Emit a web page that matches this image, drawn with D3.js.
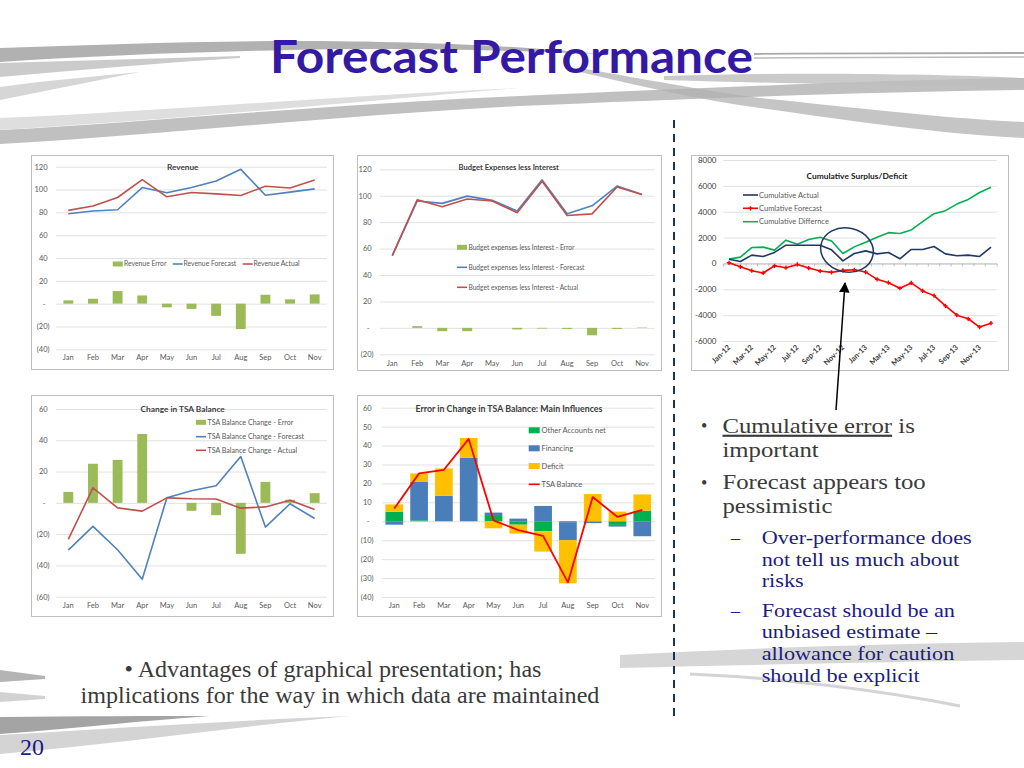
<!DOCTYPE html>
<html><head><meta charset="utf-8">
<script src="https://cdn.jsdelivr.net/npm/d3@7"></script>
<style>body{margin:0;background:#fff}svg{display:block}</style>
</head><body>
<svg id="s" width="1024" height="768"></svg>
<script>
// ---------------- DATA ----------------
const months = ["Jan","Feb","Mar","Apr","May","Jun","Jul","Aug","Sep","Oct","Nov"];

const revenueError    = [2.9, 4.3, 11, 7.2, -3.2, -4.6, -10.7, -22.3, 7.8, 3.8, 8.1];
const revenueForecast = [78.8, 81.2, 82.3, 101.7, 97.1, 101.7, 107.5, 117.7, 95, 97.7, 100.6];
const revenueActual   = [81.7, 85.5, 93, 108.7, 93.6, 97.4, 96.2, 94.8, 102.9, 101.4, 108.4];
const revenueTicks    = [120, 100, 80, 60, 40, 20, 0, -20, -40];

const budgetError    = [0, 1.3, -2.5, -2.5, 0, -1.2, -0.5, -0.8, -5.6, -0.8, 0.3];
const budgetForecast = [54.7, 96, 94.2, 99.7, 96.5, 88.4, 112, 86.3, 92.4, 107.3, 101];
const budgetActual   = [54.7, 97, 91.6, 97.5, 96, 87.1, 111, 85, 86.3, 106.6, 101];
const budgetTicks    = [120, 100, 80, 60, 40, 20, 0, -20];

const tsaError    = [7, 25, 27.5, 44, 0, -5.1, -7.9, -32.6, 13.4, 2, 6.2];
const tsaForecast = [-30.2, -15, -30, -48.9, 3.2, 7.7, 10.9, 29.6, -15.5, -0.6, -10];
const tsaActual   = [-23.4, 9.6, -3.2, -5.3, 3.2, 2.6, 2.5, -3.4, -2.6, 1.7, -4.3];
const tsaTicks    = [60, 40, 20, 0, -20, -40, -60];

const otherAccounts = [5, 0.5, 0, 0, 2.8, -1.8, -5.3, -0.5, 0, -1.9, 5.6];
const financing     = [-1.8, 20.5, 13.5, 33.5, 1.8, 1.4, 8.1, -9.5, -1, -0.9, -7.9];
const deficit       = [3.9, 4.3, 14.4, 10.5, -3.7, -4.7, -10.7, -22.8, 14.4, 5.1, 8.6];
const tsaBalance    = [6.7, 25.3, 27.2, 43.5, 0.5, -4.7, -7.7, -32.3, 12.8, 2.3, 6];
const influenceTicks = [60, 50, 40, 30, 20, 10, 0, -10, -20, -30, -40];

const cumMonths = ["Jan-12","Feb-12","Mar-12","Apr-12","May-12","Jun-12","Jul-12","Aug-12","Sep-12","Oct-12","Nov-12","Dec-12",
                   "Jan-13","Feb-13","Mar-13","Apr-13","May-13","Jun-13","Jul-13","Aug-13","Sep-13","Oct-13","Nov-13","Dec-13"];
const cumActual     = [330,150,640,540,850,1410,1410,1410,1410,1050,200,770,970,740,850,360,1080,1080,1310,740,590,640,540,1260];
const cumForecast   = [50,-260,-560,-740,-180,-330,-80,-360,-590,-690,-540,-490,-670,-1230,-1490,-1920,-1510,-2130,-2490,-3280,-4000,-4280,-4920,-4620];
const cumDifference = [330,490,1230,1260,1030,1800,1490,1850,2030,1740,770,1280,1640,2030,2380,2310,2590,3230,3850,4080,4590,4950,5490,5900];
const cumTicks = [8000, 6000, 4000, 2000, 0, -2000, -4000, -6000];

// ---------------- DRAWING ----------------
const svg = d3.select("#s");
const FONT = "Lato, 'Liberation Sans', sans-serif";
const SERIF = "'Liberation Serif', 'DejaVu Serif', serif";
const acc = v => v === 0 ? "-\u00A0\u00A0" : v < 0 ? "(" + Math.abs(v) + ")" : v + "\u00A0";

// background swooshes
const bg = svg.append("g");
[
  ["M0,48 C90,45 190,41 290,41 C420,41 520,46 600,54 C480,49 380,48 290,50 C190,52 90,56 0,62 Z", "#a3a3a3", 0.85],
  ["M0,63 C80,61 160,58 240,56 L240,58 C160,63 80,70 0,77 Z", "#cbcbcb", 1],
  ["M0,87 C50,80 100,76 140,72 C100,80 50,90 0,100 Z", "#d6d6d6", 1],
  ["M0,130 C150,122 330,104 520,96 C700,88 880,80 1024,78 L1024,90 C880,92 700,98 520,106 C330,116 150,136 0,144 Z", "#ababab", 0.75],
  ["M0,118 C150,112 330,96 520,88 C420,96 200,118 0,130 Z", "#dedede", 1],
  ["M580,68 C650,80 700,90 760,98 C860,108 940,118 1024,122 L1024,138 C940,134 860,122 760,108 C700,100 640,86 580,72 Z", "#b2b2b2", 0.75],
  ["M664,76 C800,72 930,74 1024,78 L1024,88 C930,86 800,84 664,80 Z", "#bdbdbd", 0.8],
  ["M0,717 C80,716 150,716 210,716 C150,720 80,728 0,734 Z", "#a4a4a4", 1],
  ["M0,735 C120,728 240,720 350,716 C240,726 120,744 0,754 Z", "#d4d4d4", 1],
  ["M0,670 L45,676 L45,679 L0,682 Z", "#b4b4b4", 1],
  ["M0,692 L45,696 L45,699 L0,702 Z", "#d2d2d2", 1],
  ["M620,655 C750,648 880,644 1024,642 L1024,660 C880,662 750,665 620,668 Z", "#c4c4c4", 0.7]
].forEach(([d, f, o]) => bg.append("path").attr("d", d).attr("fill", f).attr("opacity", o));
bg.append("path").attr("d","M754,54 C850,53 950,53 1024,53").attr("fill","none").attr("stroke","#aaa").attr("stroke-width",1.8);
bg.append("path").attr("d","M754,58 C850,57 950,57 1024,57").attr("fill","none").attr("stroke","#bbb").attr("stroke-width",1.5);
bg.append("path").attr("d","M690,674 C780,678 880,690 960,706").attr("fill","none").attr("stroke","#d4d4d4").attr("stroke-width",3);

// title
svg.append("text").attr("x", 270).attr("y", 73).attr("textLength", 483).attr("lengthAdjust", "spacingAndGlyphs")
  .style("font-family", FONT).style("font-weight", 700).style("font-size", "46px")
  .attr("fill", "#3419a3").text("Forecast Performance");

// dashed divider
svg.append("line").attr("x1",674).attr("x2",674).attr("y1",120).attr("y2",722)
  .attr("stroke","#1f2f5f").attr("stroke-width",2).attr("stroke-dasharray","8,6");

function frame(box) {
  svg.append("rect").attr("x", box[0] + .5).attr("y", box[1] + .5).attr("width", box[2]).attr("height", box[3])
    .attr("fill", "#fff").attr("stroke", "#bfbfbf");
}

function base(o) {
  frame(o.box);
  const g = svg.append("g");
  const x = d3.scaleBand().domain(o.cats).range(o.xr);
  const y = d3.scaleLinear().domain(o.yd).range(o.yr);
  const ya = g.append("g").attr("transform", `translate(${o.xr[0]},0)`)
    .call(d3.axisLeft(y).tickValues(o.ticks).tickFormat(o.fmt || acc)
      .tickSize(-(o.xr[1] - o.xr[0])).tickPadding(o.xr[0] - o.labelX));
  ya.select(".domain").remove();
  ya.selectAll(".tick line").attr("stroke", "#d9d9d9").attr("stroke-width", 0.8);
  ya.selectAll(".tick text").attr("fill", o.tc || "#595959").style("font-family", FONT).style("font-size", (o.fs || 7.5) + "px");
  return { g, x, y };
}

function monthAxis(g, x, yPos) {
  const xa = g.append("g").attr("transform", `translate(0,${yPos})`).call(d3.axisBottom(x).tickSize(0).tickPadding(0));
  xa.select(".domain").remove();
  xa.selectAll("text").attr("y", 0).attr("dy", "0.35em").attr("fill", "#595959")
    .style("font-family", FONT).style("font-size", "7.5px");
}

function bars(g, x, y, vals, frac, color) {
  const bw = x.bandwidth() * frac;
  g.append("g").selectAll("rect").data(vals).join("rect")
    .attr("x", (d, i) => x(months[i]) + (x.bandwidth() - bw) / 2)
    .attr("y", d => y(Math.max(0, d)))
    .attr("width", bw)
    .attr("height", d => Math.abs(y(d) - y(0)))
    .attr("fill", color);
}

function line(g, x, y, cats, vals, color, w) {
  g.append("path").datum(vals)
    .attr("d", d3.line().x((d, i) => x(cats[i]) + x.bandwidth() / 2).y(d => y(d)))
    .attr("fill", "none").attr("stroke", color).attr("stroke-width", w || 1.6).attr("stroke-linejoin", "round");
}

function title(g, x, y, txt, fs, col) {
  g.append("text").attr("x", x).attr("y", y).attr("dy", "0.35em").attr("text-anchor", "middle")
    .style("font-family", FONT).style("font-weight", 700).style("font-size", fs + "px")
    .attr("fill", col || "#404040").text(txt);
}

function legText(g, x, y, txt, fs) {
  g.append("text").attr("x", x).attr("y", y).attr("dy", "0.35em")
    .style("font-family", FONT).style("font-size", (fs || 7.5) + "px").attr("fill", "#595959").text(txt);
}
function legRect(g, x, y, w, h, c) { g.append("rect").attr("x", x).attr("y", y - h / 2).attr("width", w).attr("height", h).attr("fill", c); }
function legLine(g, x, y, w, c) { g.append("line").attr("x1", x).attr("x2", x + w).attr("y1", y).attr("y2", y).attr("stroke", c).attr("stroke-width", 1.6); }

const GREEN = "#9bbb59", BLUE = "#4f81bd", RED = "#c0504d";

// ---- Chart 1: Revenue
{
  const { g, x, y } = base({ box: [31, 155, 302, 214], cats: months, xr: [56, 327], yd: [-40, 120], yr: [349.3, 166.7], ticks: revenueTicks, labelX: 49.5 });
  monthAxis(g, x, 357);
  bars(g, x, y, revenueError, 0.4, GREEN);
  line(g, x, y, months, revenueForecast, BLUE);
  line(g, x, y, months, revenueActual, RED);
  title(g, 182.7, 167, "Revenue", 8.2);
  legRect(g, 112.7, 264, 10, 5, GREEN); legText(g, 124, 264, "Revenue Error", 6.8);
  legLine(g, 172.7, 264, 10, BLUE); legText(g, 183.5, 264, "Revenue Forecast", 6.8);
  legLine(g, 242.7, 264, 10, RED); legText(g, 253.5, 264, "Revenue Actual", 6.8);
}

// ---- Chart 2: Budget Expenses less Interest
{
  const { g, x, y } = base({ box: [357, 155, 304, 215], cats: months, xr: [379.8, 654.5], yd: [-20, 120], yr: [354.3, 169.3], ticks: budgetTicks, labelX: 373.5 });
  monthAxis(g, x, 363);
  bars(g, x, y, budgetError, 0.4, GREEN);
  line(g, x, y, months, budgetForecast, BLUE);
  line(g, x, y, months, budgetActual, RED);
  title(g, 508.7, 167.5, "Budget Expenses less Interest", 7.6);
  legRect(g, 457, 247.3, 10, 5, GREEN); legText(g, 468.5, 247.3, "Budget expenses less Interest - Error", 6.6);
  legLine(g, 457, 267.3, 10, BLUE); legText(g, 468.5, 267.3, "Budget expenses less Interest - Forecast", 6.6);
  legLine(g, 457, 287.3, 10, RED); legText(g, 468.5, 287.3, "Budget expenses less Interest - Actual", 6.6);
}

// ---- Chart 4: Change in TSA Balance
{
  const { g, x, y } = base({ box: [31, 395, 302, 221], cats: months, xr: [56, 327], yd: [-60, 60], yr: [596.7, 409], ticks: tsaTicks, labelX: 49.5 });
  monthAxis(g, x, 605);
  bars(g, x, y, tsaError, 0.4, GREEN);
  line(g, x, y, months, tsaForecast, BLUE);
  line(g, x, y, months, tsaActual, RED);
  title(g, 182.7, 409, "Change in TSA Balance", 8.3);
  legRect(g, 196, 422.3, 10, 5, GREEN); legText(g, 207.5, 422.3, "TSA Balance Change - Error", 7.1);
  legLine(g, 196, 436.7, 10, BLUE); legText(g, 207.5, 436.7, "TSA Balance Change - Forecast", 7.1);
  legLine(g, 196, 450.3, 10, RED); legText(g, 207.5, 450.3, "TSA Balance Change - Actual", 7.1);
}

// ---- Chart 5: Error in Change in TSA Balance: Main Influences
{
  const { g, x, y } = base({ box: [357, 395, 304, 221], cats: months, xr: [381.9, 654.7], yd: [-40, 60], yr: [597, 407.7], ticks: influenceTicks, labelX: 373.5 });
  monthAxis(g, x, 605.7);
  const rows = months.map((m, i) => ({ m, other: otherAccounts[i], fin: financing[i], def: deficit[i] }));
  const layers = d3.stack().keys(["other", "fin", "def"]).offset(d3.stackOffsetDiverging)(rows);
  const col = { other: "#00b050", fin: "#4a7ebb", def: "#ffc000" };
  const bw = x.bandwidth() / 1.4;
  g.append("g").selectAll("g").data(layers).join("g").attr("fill", d => col[d.key])
    .selectAll("rect").data(d => d).join("rect")
    .attr("x", d => x(d.data.m) + (x.bandwidth() - bw) / 2)
    .attr("y", d => y(Math.max(d[0], d[1])))
    .attr("width", bw)
    .attr("height", d => Math.abs(y(d[0]) - y(d[1])));
  line(g, x, y, months, tsaBalance, "#ff0000", 1.8);
  title(g, 509, 409, "Error in Change in TSA Balance: Main Influences", 8.8);
  legRect(g, 528.7, 430.3, 11, 6, "#00b050"); legText(g, 541.5, 430.3, "Other Accounts net");
  legRect(g, 528.7, 448.3, 11, 6, "#4a7ebb"); legText(g, 541.5, 448.3, "Financing");
  legRect(g, 528.7, 466, 11, 6, "#ffc000"); legText(g, 541.5, 466, "Deficit");
  legLine(g, 528.7, 484.3, 11, "#ff0000"); legText(g, 541.5, 484.3, "TSA Balance");
}

// ---- Chart 3: Cumulative Surplus/Deficit
{
  const { g, x, y } = base({ box: [691, 155, 317, 215], cats: cumMonths, xr: [723.3, 996.7], yd: [-6000, 8000], yr: [341, 160],
    ticks: cumTicks, labelX: 716.5, fmt: d => String(d), fs: 8, tc: "#404040" });
  const za = g.append("g").attr("transform", `translate(0,${y(0)})`)
    .call(d3.axisBottom(x).tickSize(3).tickFormat(""));
  za.select(".domain").attr("stroke", "#bfbfbf");
  za.selectAll(".tick line").attr("stroke", "#bfbfbf").attr("transform", `translate(${-x.bandwidth() / 2},0)`);
  const xa = g.append("g").attr("transform", `translate(0,346)`)
    .call(d3.axisBottom(x).tickValues(cumMonths.filter((d, i) => i % 2 === 0)).tickSize(0).tickPadding(0));
  xa.select(".domain").remove();
  xa.selectAll("text").attr("y", 0).attr("x", 0).attr("dy", "0.35em").attr("text-anchor", "end")
    .attr("transform", "rotate(-45)").attr("fill", "#404040")
    .style("font-family", FONT).style("font-size", "7.5px").style("font-weight", 700);
  line(g, x, y, cumMonths, cumDifference, "#00b050", 1.6);
  line(g, x, y, cumMonths, cumActual, "#203864", 1.6);
  line(g, x, y, cumMonths, cumForecast, "#ff0000", 1.6);
  g.append("g").selectAll("path").data(cumForecast).join("path")
    .attr("d", d3.symbol(d3.symbolCross, 10))
    .attr("transform", (d, i) => `translate(${x(cumMonths[i]) + x.bandwidth() / 2},${y(d)})`)
    .attr("fill", "#ff0000");
  title(g, 857, 176, "Cumulative Surplus/Deficit", 8.4, "#1a1a1a");
  legLine(g, 743, 195, 15, "#203864"); legText(g, 759, 195, "Cumulative Actual");
  legLine(g, 743, 208.3, 15, "#ff0000");
  g.append("path").attr("d", d3.symbol(d3.symbolCross, 10)).attr("transform", "translate(750.5,208.3)").attr("fill", "#ff0000");
  legText(g, 759, 208.3, "Cumlative Forecast");
  legLine(g, 743, 221.7, 15, "#00b050"); legText(g, 759, 221.7, "Cumulative Differnce");
  g.append("ellipse").attr("cx", 847).attr("cy", 250).attr("rx", 26.5).attr("ry", 22)
    .attr("transform", "rotate(12,847,250)").attr("fill", "none").attr("stroke", "#1f3864").attr("stroke-width", 1.5);
}

// arrow
const defs = svg.append("defs");
defs.append("marker").attr("id", "ah").attr("viewBox", "0 0 10 10").attr("refX", 9).attr("refY", 5)
  .attr("markerWidth", 7).attr("markerHeight", 7).attr("orient", "auto")
  .append("path").attr("d", "M0,0 L10,5 L0,10 Z").attr("fill", "#000");
svg.append("line").attr("x1", 836).attr("y1", 410).attr("x2", 845).attr("y2", 283)
  .attr("stroke", "#000").attr("stroke-width", 1.5).attr("marker-end", "url(#ah)");

// right-hand bullets (serif text, widened horizontally to match the Garamond-like original)
const rt = svg.append("g").style("font-family", SERIF);
const L1 = "#3a3a3a", L2 = "#1c1c86";
function widen(sel, f) {
  const w = sel.node().getComputedTextLength();
  sel.attr("textLength", w * f).attr("lengthAdjust", "spacingAndGlyphs");
  return sel;
}
function tline(x, y, txt, fs, col, f) {
  const t = rt.append("text").attr("x", x).attr("y", y).style("font-size", fs + "px").attr("fill", col).text(txt);
  return f ? widen(t, f) : t;
}
const F1 = 21.5, W1 = 1.15, F2 = 19, W2 = 1.17;
tline(701, 432, "•", 18, L1);
const t1 = rt.append("text").attr("x", 722.5).attr("y", 432.7).style("font-size", F1 + "px").attr("fill", L1);
t1.append("tspan").style("text-decoration", "underline").text("Cumulative error");
t1.append("tspan").text(" is");
widen(t1, W1);
tline(722.5, 456.7, "important", F1, L1, W1);
tline(701, 489, "•", 18, L1);
tline(722.5, 489.3, "Forecast appears too", F1, L1, W1);
tline(722.5, 513.3, "pessimistic", F1, L1, W1);
tline(731, 544, "–", 18, L2);
tline(761.7, 544, "Over-performance does", F2, L2, W2);
tline(761.7, 565.7, "not tell us much about", F2, L2, W2);
tline(761.7, 587.4, "risks", F2, L2, W2);
tline(731, 616.7, "–", 18, L2);
tline(761.7, 616.7, "Forecast should be an", F2, L2, W2);
tline(761.7, 638.4, "unbiased estimate –", F2, L2, W2);
tline(761.7, 660.1, "allowance for caution", F2, L2, W2);
tline(761.7, 681.8, "should be explicit", F2, L2, W2);

// bottom note
const b1 = rt.append("text").attr("x", 333).attr("y", 677.3).attr("text-anchor", "middle").style("font-size", "22.5px").attr("fill", L1)
  .text("• Advantages of graphical presentation; has");
widen(b1, 1.07);
const b2 = rt.append("text").attr("x", 340).attr("y", 703.3).attr("text-anchor", "middle").style("font-size", "22.5px").attr("fill", L1)
  .text("implications for the way in which data are maintained");
widen(b2, 1.07);
rt.append("text").attr("x", 20).attr("y", 755).style("font-size", "24px").attr("fill", L2).text("20");
</script>
</body></html>
